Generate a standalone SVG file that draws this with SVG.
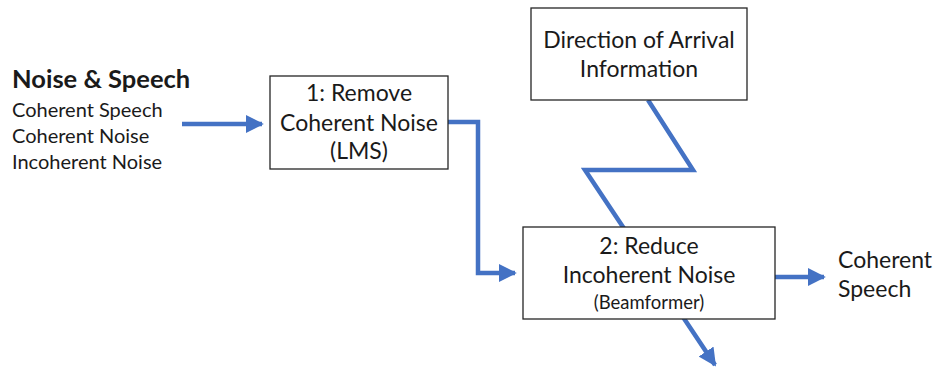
<svg xmlns="http://www.w3.org/2000/svg" width="937" height="369" viewBox="0 0 937 369">
  <defs>
    <marker id="arrow" viewBox="0 0 10 10" refX="9" refY="5" markerWidth="4" markerHeight="4" markerUnits="strokeWidth" orient="auto">
      <path d="M0,0 L10,5 L0,10 z" fill="#4472C4"/>
    </marker>
    <style>
      .box { fill: #ffffff; stroke: #262626; stroke-width: 1.3; }
      .wire { fill: none; stroke: #4472C4; stroke-width: 4.5; stroke-linejoin: miter; }
      text { font-family: Lato, "Open Sans", "Liberation Sans", sans-serif; fill: #1a1a1a; }
      .lbl { font-size: 23px; text-anchor: middle; }
      .small { font-size: 18.5px; text-anchor: middle; }
      .side { font-size: 20px; }
    </style>
  </defs>

  <!-- connectors -->
  <g id="connectors">
    <path class="wire" d="M182,124 L262,124" marker-end="url(#arrow)"/>
    <path class="wire" d="M448,122 L478,122 L478,273 L515,273" marker-end="url(#arrow)"/>
    <path class="wire" d="M648,100 L693,170 L585,170 L715,365" marker-end="url(#arrow)"/>
    <path class="wire" d="M775,277 L824,277" marker-end="url(#arrow)"/>
  </g>

  <!-- input description -->
  <g id="input">
    <text x="12" y="88" font-size="25.5" font-weight="bold">Noise &amp; Speech</text>
    <text class="side" x="12" y="117">Coherent Speech</text>
    <text class="side" x="12" y="143">Coherent Noise</text>
    <text class="side" x="12" y="169">Incoherent Noise</text>
  </g>

  <g id="lms">
    <rect class="box" x="270" y="76" width="178" height="93"/>
    <text class="lbl" x="359" y="101">1: Remove</text>
    <text class="lbl" x="359" y="131">Coherent Noise</text>
    <text class="lbl" x="359" y="159">(LMS)</text>
  </g>

  <g id="doa">
    <rect class="box" x="531" y="8" width="216" height="92"/>
    <text class="lbl" x="639" y="48">Direction of Arrival</text>
    <text class="lbl" x="639" y="77">Information</text>
  </g>

  <g id="beamformer">
    <rect class="box" x="523" y="227" width="252" height="92"/>
    <text class="lbl" x="649" y="254">2: Reduce</text>
    <text class="lbl" x="649" y="283">Incoherent Noise</text>
    <text class="small" x="649" y="309">(Beamformer)</text>
  </g>

  <g id="output">
    <text x="838" y="268" font-size="23">Coherent</text>
    <text x="838" y="297" font-size="23">Speech</text>
  </g>
</svg>
